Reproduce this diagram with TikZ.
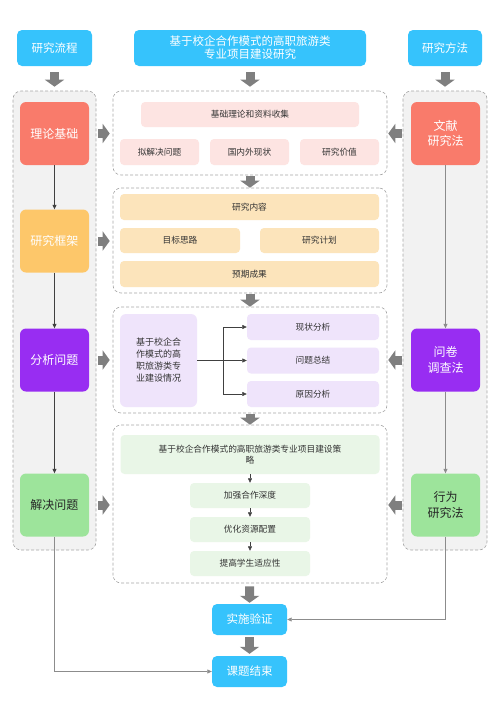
\documentclass[tikz,border=0pt]{standalone}
\usepackage{fontspec}
\setmainfont{Noto Sans CJK SC}
\usetikzlibrary{arrows.meta,positioning}

\definecolor{headblue}{RGB}{54,195,252}
\definecolor{salmon}{RGB}{249,123,107}
\definecolor{amber}{RGB}{253,199,106}
\definecolor{violet}{RGB}{152,45,242}
\definecolor{mint}{RGB}{157,228,155}
\definecolor{pinkbg}{RGB}{253,228,226}
\definecolor{sandbg}{RGB}{252,228,187}
\definecolor{lilacbg}{RGB}{239,228,251}
\definecolor{leafbg}{RGB}{233,246,231}
\definecolor{arrowgray}{RGB}{127,127,127}

\begin{document}
\begin{tikzpicture}
  [x=1pt,y=1pt,on grid,
   headbox/.style={rectangle,rounded corners=5pt,fill=headblue,text=white,
     minimum height=36pt,inner sep=0pt,align=center,
     font=\fontsize{11.5}{13}\selectfont},
   stepnode/.style={rectangle,rounded corners=6pt,minimum width=69pt,
     minimum height=63pt,inner sep=0pt,text=white,align=center,
     font=\fontsize{12}{15.5}\selectfont},
   panel/.style={rectangle,rounded corners=8pt,draw=black!35,fill=white,
     line width=0.6pt,dash pattern=on 3pt off 2pt},
   sidepanel/.style={panel,fill=black!5},
   item/.style={rectangle,rounded corners=4pt,minimum height=25pt,
     inner sep=0pt,text=black!80,align=center,
     font=\fontsize{8.7}{11}\selectfont},
   bigarrow/.style={draw=arrowgray,line width=9pt,
     -{Triangle[width=19pt,length=7pt]}},
   flow/.style={draw=black!75,line width=0.6pt,
     -{Triangle[width=4pt,length=4.5pt]}},
   link/.style={flow,draw=black!45}]
  \useasboundingbox (0,0) rectangle (500,-707);

  % panels
  \node [sidepanel,minimum width=83pt,minimum height=459pt] (flowpanel) at (54.5,-320.5) {};
  \node [sidepanel,minimum width=84pt,minimum height=459pt] (methodpanel) at (445,-320.5) {};
  \node [panel,minimum width=274pt,minimum height=84pt] (basepanel) at (250,-133) {};
  \node [panel,minimum width=274pt,minimum height=105pt] (framepanel) at (250,-240.5) {};
  \node [panel,minimum width=274pt,minimum height=106pt] (analysepanel) at (250,-360) {};
  \node [panel,minimum width=274pt,minimum height=158pt] (solvepanel) at (250,-504) {};

  % heads
  \node [headbox,minimum width=75pt] (flowhead) at (54.5,-48) {研究流程};
  \node [headbox,minimum width=232pt] (title) at (250,-48)
    {基于校企合作模式的高职旅游类\\专业项目建设研究};
  \node [headbox,minimum width=74pt] (methodhead) at (445,-48) {研究方法};

  % research flow
  \node [stepnode,fill=salmon] (theory) at (54.5,-133.5) {理论基础};
  \node [stepnode,fill=amber] (frame) [below=107.5pt of theory] {研究框架};
  \node [stepnode,fill=violet] (analyse) [below=119pt of frame] {分析问题};
  \node [stepnode,fill=mint,text=black!85] (solve) [below=145pt of analyse] {解决问题};

  % research methods
  \node [stepnode,fill=salmon] (literature) at (445.5,-133.5) {文献\\研究法};
  \node [stepnode,fill=violet] (survey) [below=226.5pt of literature] {问卷\\调查法};
  \node [stepnode,fill=mint,text=black!85] (action) [below=145pt of survey] {行为\\研究法};

  % basis
  \node [item,fill=pinkbg,minimum width=218pt] (collect) at (250,-114.5) {基础理论和资料收集};
  \node [item,fill=pinkbg,minimum width=79pt,minimum height=26pt] (problem) at (159.5,-152) {拟解决问题};
  \node [item,fill=pinkbg,minimum width=79pt,minimum height=26pt] (status) [right=90pt of problem] {国内外现状};
  \node [item,fill=pinkbg,minimum width=79pt,minimum height=26pt] (value) [right=90pt of status] {研究价值};

  % framework
  \node [item,fill=sandbg,minimum width=259pt,minimum height=26pt] (content) at (249.5,-207) {研究内容};
  \node [item,fill=sandbg,minimum width=120pt] (idea) at (180,-240.5) {目标思路};
  \node [item,fill=sandbg,minimum width=119pt] (plan) [right=139.5pt of idea] {研究计划};
  \node [item,fill=sandbg,minimum width=259pt,minimum height=26pt] (result) [below=67pt of content] {预期成果};

  % analysis
  \node [item,fill=lilacbg,minimum width=77pt,minimum height=93pt,rounded corners=6pt,
    font=\fontsize{9}{12}\selectfont] (situation) at (158.5,-360.5)
    {基于校企合\\作模式的高\\职旅游类专\\业建设情况};
  \node [item,fill=lilacbg,minimum width=132pt,minimum height=26pt] (current) at (313,-327) {现状分析};
  \node [item,fill=lilacbg,minimum width=132pt,minimum height=26pt] (summary) [below=33.5pt of current] {问题总结};
  \node [item,fill=lilacbg,minimum width=132pt,minimum height=26pt] (reason) [below=33.5pt of summary] {原因分析};

  % solution
  \node [item,fill=leafbg,minimum width=259pt,minimum height=39pt] (strategy) at (250,-454.5)
    {基于校企合作模式的高职旅游类专业项目建设策\\略};
  \node [item,fill=leafbg,minimum width=120pt] (deepen) at (250,-495.5) {加强合作深度};
  \node [item,fill=leafbg,minimum width=120pt] (optimize) [below=34pt of deepen] {优化资源配置};
  \node [item,fill=leafbg,minimum width=120pt] (adapt) [below=34pt of optimize] {提高学生适应性};

  % end
  \node [headbox,minimum width=75pt,minimum height=31pt] (verify) at (249.5,-619.5) {实施验证};
  \node [headbox,minimum width=75pt,minimum height=31pt] (finish) [below=52pt of verify] {课题结束};

  % block arrows
  \draw [bigarrow,shorten <=6pt,shorten >=4pt] (flowhead) -- (flowpanel);
  \draw [bigarrow,shorten <=6pt,shorten >=4pt] (title) -- (basepanel);
  \draw [bigarrow,shorten <=6pt,shorten >=4pt] (methodhead) -- (methodpanel);
  \draw [bigarrow,shorten <=9pt,shorten >=3pt] (theory.east) -- (theory -| basepanel.west);
  \draw [bigarrow,shorten <=9pt,shorten >=3pt] (frame.east) -- (frame -| framepanel.west);
  \draw [bigarrow,shorten <=9pt,shorten >=3pt] (analyse.east) -- (analyse -| analysepanel.west);
  \draw [bigarrow,shorten <=9pt,shorten >=3pt] (solve.east) -- (solve -| solvepanel.west);
  \draw [bigarrow,shorten <=9pt,shorten >=1pt] (literature.west) -- (literature -| basepanel.east);
  \draw [bigarrow,shorten <=9pt,shorten >=1pt] (survey.west) -- (survey -| analysepanel.east);
  \draw [bigarrow,shorten <=9pt,shorten >=1pt] (action.west) -- (action -| solvepanel.east);
  \draw [bigarrow,shorten <=1pt] (basepanel) -- (framepanel);
  \draw [bigarrow,shorten <=1pt] (framepanel) -- (analysepanel);
  \draw [bigarrow,shorten <=1pt] (analysepanel) -- (solvepanel);
  \draw [bigarrow,shorten <=3pt,shorten >=1pt] (solvepanel) -- (verify);
  \draw [bigarrow,shorten <=2pt,shorten >=2pt] (verify) -- (finish);

  % thin connectors
  \draw [flow] (theory) -- (frame);
  \draw [flow] (frame) -- (analyse);
  \draw [flow] (analyse) -- (solve);
  \draw [link] (literature) -- (survey);
  \draw [link] (survey) -- (action);
  \draw [link] (action.south) |- (verify.east);
  \draw [link] (solve.south) |- (finish.west);
  \draw [flow] (situation.east) -- (summary.west);
  \draw [flow] (situation.east) -- ++(26pt,0) |- (current.west);
  \draw [flow] (situation.east) -- ++(26pt,0) |- (reason.west);
  \draw [flow] (strategy) -- (deepen);
  \draw [flow] (deepen) -- (optimize);
  \draw [flow] (optimize) -- (adapt);
\end{tikzpicture}
\end{document}
